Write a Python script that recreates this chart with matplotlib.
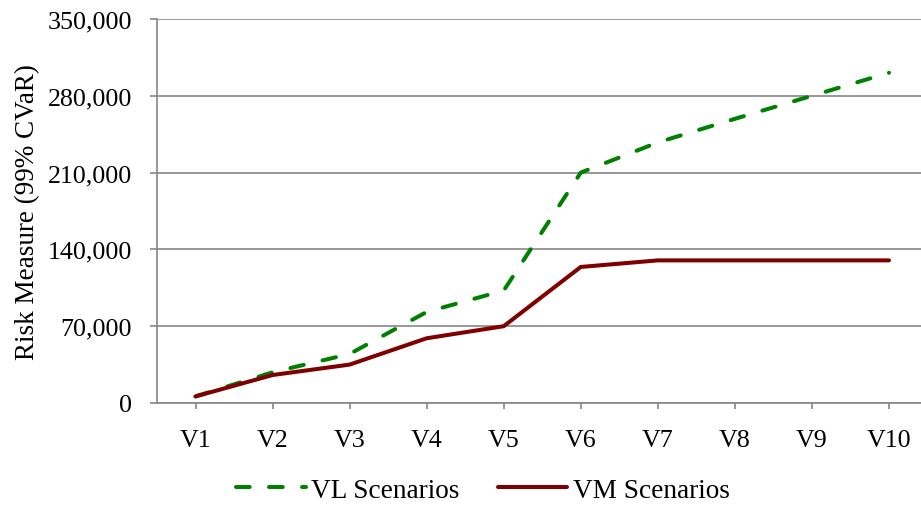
import matplotlib
matplotlib.use("Agg")
import matplotlib.pyplot as plt
from matplotlib.ticker import FuncFormatter

# risk measure (99% CVaR) per scenario version
versions = ["V1", "V2", "V3", "V4", "V5", "V6", "V7", "V8", "V9", "V10"]
vl_values = [6000, 28000, 44700, 83000, 102500, 210000, 237500, 259000, 280000, 301000]
vm_values = [6000, 25500, 35000, 59000, 70000, 124000, 130000, 130000, 130000, 130000]

plt.rcParams["font.family"] = ["Liberation Serif", "DejaVu Serif"]
plt.rcParams["font.size"] = 18.7

grey = "#868686"

fig = plt.figure(figsize=(9.21, 5.06), dpi=100)
ax = fig.add_axes([157 / 921, 102 / 506, (927.5 - 157) / 921, 384 / 506])

x = list(range(len(versions)))
ax.plot(x, vl_values, color="#008000", lw=2.9, linestyle=(0, (3.4, 4.8)),
        dash_capstyle="round", label="VL Scenarios", zorder=3)
ax.plot(x, vm_values, color="#800000", lw=2.9, solid_capstyle="round",
        solid_joinstyle="miter", label="VM Scenarios", zorder=4)

ax.set_xlim(-0.5, 9.5)
ax.set_ylim(0, 350000)
ax.set_yticks(range(0, 350001, 70000))
ax.yaxis.set_major_formatter(FuncFormatter(lambda v, _: f"{int(v):,}"))
ax.set_xticks(x)
ax.set_xticklabels(versions)

ax.grid(axis="y", color=grey, lw=1.2)
ax.set_axisbelow(True)
for side in ("top", "right"):
    ax.spines[side].set_visible(False)
for side in ("left", "bottom"):
    ax.spines[side].set_color(grey)
    ax.spines[side].set_linewidth(1.2)

ax.tick_params(axis="y", length=5, width=1.2, color=grey, pad=13)
ax.tick_params(axis="x", length=4, width=1.2, color=grey, pad=15)
ax.set_ylabel("Risk Measure (99% CVaR)", fontsize=19.5, labelpad=5)

fig.legend(loc="center", bbox_to_anchor=(483 / 921, 1 - 491 / 506), ncol=2,
           frameon=False, fontsize=19.6, handlelength=2.55, handletextpad=0.2,
           columnspacing=1.4, borderaxespad=0)

fig.savefig("out.png", dpi=100)
